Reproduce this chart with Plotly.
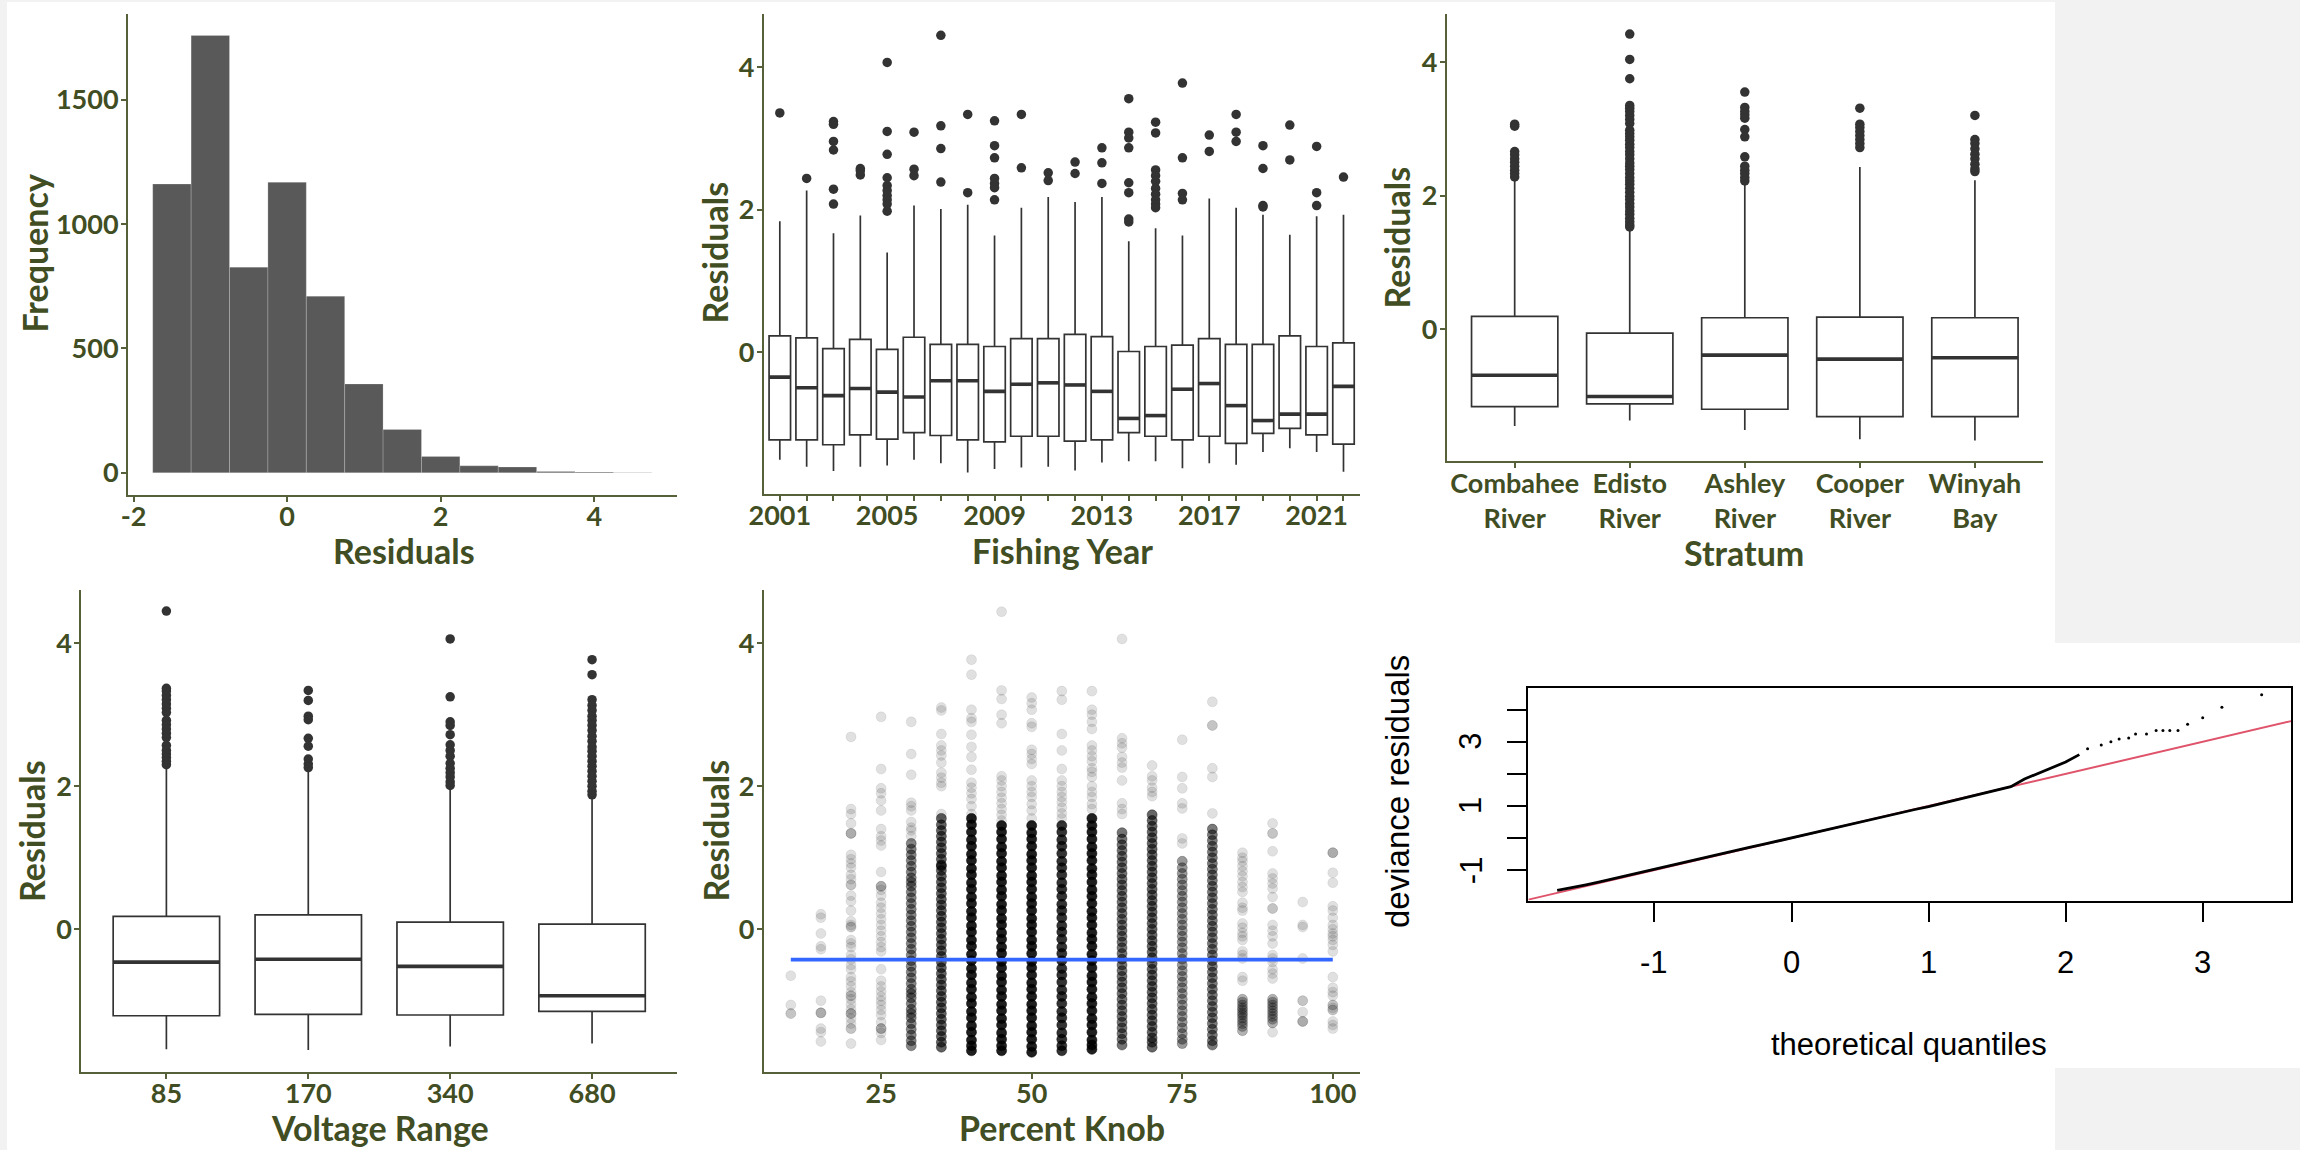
import plotly.graph_objects as go

# ---------------- data ----------------
# Panel 1: histogram of residuals (bin centres, counts; bin width 0.5)
hist_centers = [-1.5, -1.0, -0.5, 0.0, 0.5, 1.0, 1.5, 2.0, 2.5, 3.0, 3.5, 4.0, 4.5]
hist_counts = [1161, 1759, 827, 1168, 710, 357, 174, 66, 28, 23, 5, 3, 1]
hist_bin_width = 0.5

# Panel 2: residuals by fishing year
years = list(range(2001, 2023))
fy_q3 = [0.23, 0.20, 0.05, 0.18, 0.04, 0.21, 0.11, 0.11, 0.08, 0.19, 0.19, 0.25, 0.22, 0.01, 0.08, 0.10, 0.19, 0.11, 0.11, 0.23, 0.08, 0.13]
fy_med = [-0.35, -0.50, -0.61, -0.51, -0.56, -0.63, -0.40, -0.40, -0.55, -0.45, -0.43, -0.46, -0.55, -0.93, -0.89, -0.52, -0.44, -0.75, -0.96, -0.87, -0.87, -0.48]
fy_q1 = [-1.23, -1.23, -1.30, -1.16, -1.22, -1.13, -1.17, -1.23, -1.26, -1.18, -1.18, -1.25, -1.23, -1.13, -1.18, -1.23, -1.18, -1.28, -1.14, -1.07, -1.16, -1.29]
fy_lo = [-1.51, -1.61, -1.67, -1.61, -1.59, -1.51, -1.56, -1.69, -1.64, -1.62, -1.61, -1.66, -1.55, -1.53, -1.53, -1.63, -1.56, -1.58, -1.40, -1.35, -1.40, -1.68]
fy_hi = [1.84, 2.27, 1.67, 1.92, 1.40, 2.06, 2.01, 2.07, 1.64, 2.03, 2.18, 2.11, 2.18, 1.56, 1.74, 1.64, 2.16, 2.03, 1.93, 1.65, 1.91, 1.93]
fy_out_year = ([2001] + [2002] + [2003] * 6 + [2004] * 3 + [2005] * 10 + [2006] * 3 + [2007] * 4 + [2008] * 2
               + [2009] * 7 + [2010] * 2 + [2011] * 2 + [2012] * 2 + [2013] * 3 + [2014] * 8 + [2015] * 10
               + [2016] * 4 + [2017] * 2 + [2018] * 3 + [2019] * 4 + [2020] * 2 + [2021] * 3 + [2022])
fy_out_val = [3.36,
              2.44,
              3.24, 3.20, 2.96, 2.84, 2.29, 2.08,
              2.58, 2.55, 2.49,
              4.07, 3.10, 2.78, 2.45, 2.34, 2.27, 2.20, 2.14, 2.08, 1.98,
              3.09, 2.57, 2.48,
              4.45, 3.18, 2.86, 2.39,
              3.34, 2.24,
              3.25, 2.90, 2.73, 2.44, 2.37, 2.31, 2.14,
              3.34, 2.59,
              2.52, 2.41,
              2.67, 2.51,
              2.87, 2.66, 2.37,
              3.56, 3.09, 3.01, 2.87, 2.38, 2.24, 1.87, 1.83,
              3.23, 3.08, 2.56, 2.48, 2.40, 2.30, 2.22, 2.14, 2.08, 2.03,
              3.78, 2.73, 2.23, 2.14,
              3.05, 2.82,
              3.34, 3.09, 2.96,
              2.90, 2.58, 2.06, 2.04,
              3.19, 2.70,
              2.89, 2.24, 2.06,
              2.46]
fy_tick_labels = ["2001", "2005", "2009", "2013", "2017", "2021"]

# Panel 3: residuals by stratum
strata = ["Combahee<br>River", "Edisto<br>River", "Ashley<br>River", "Cooper<br>River", "Winyah<br>Bay"]
st_q3 = [0.19, -0.06, 0.17, 0.18, 0.17]
st_med = [-0.69, -1.01, -0.39, -0.45, -0.43]
st_q1 = [-1.16, -1.12, -1.20, -1.31, -1.31]
st_lo = [-1.45, -1.37, -1.51, -1.65, -1.67]
st_hi = [2.23, 1.50, 2.16, 2.43, 2.23]
st_out_combahee = [3.07, 3.04, 2.66, 2.61, 2.55, 2.50, 2.44, 2.38, 2.33, 2.28]
st_out_edisto = [4.42, 4.04, 3.75, 3.35, 3.31, 3.26, 3.20, 3.14, 3.08, 2.98, 2.93, 2.88, 2.83, 2.77, 2.72,
                 2.66, 2.61, 2.55, 2.49, 2.44, 2.39, 2.33, 2.27, 2.22, 2.17, 2.11, 2.05, 1.99, 1.94, 1.88,
                 1.83, 1.77, 1.72, 1.66, 1.61, 1.56, 1.53]
st_out_ashley = [3.55, 3.32, 3.26, 3.21, 3.16, 2.99, 2.88, 2.58, 2.44, 2.38, 2.33, 2.27, 2.22]
st_out_cooper = [3.31, 3.07, 3.02, 2.96, 2.90, 2.84, 2.78, 2.72]
st_out_winyah = [3.20, 2.84, 2.78, 2.70, 2.62, 2.55, 2.47, 2.40, 2.36]

# Panel 4: residuals by voltage range
volts = ["85", "170", "340", "680"]
v_q3 = [0.18, 0.20, 0.10, 0.07]
v_med = [-0.46, -0.42, -0.52, -0.93]
v_q1 = [-1.21, -1.19, -1.20, -1.15]
v_lo = [-1.68, -1.69, -1.64, -1.60]
v_hi = [2.26, 2.20, 1.97, 1.84]
v_out_85 = [4.45, 3.37, 3.33, 3.27, 3.21, 3.15, 3.09, 3.03, 2.92, 2.86, 2.80, 2.74, 2.68, 2.57, 2.50, 2.45, 2.40, 2.35, 2.30]
v_out_170 = [3.34, 3.20, 2.98, 2.93, 2.67, 2.56, 2.38, 2.31, 2.26]
v_out_340 = [4.06, 3.25, 2.90, 2.85, 2.72, 2.58, 2.50, 2.42, 2.32, 2.25, 2.19, 2.13, 2.06, 2.01]
v_out_680 = [3.77, 3.56, 3.21, 3.13, 3.06, 2.98, 2.92, 2.85, 2.78, 2.70, 2.63, 2.55, 2.49, 2.42, 2.35, 2.28,
             2.21, 2.14, 2.07, 2.00, 1.93, 1.88]

# Panel 5: residuals vs percent knob (sparse points + dense cores)
knob_levels = [10, 15, 20, 25, 30, 35, 40, 45, 50, 55, 60, 65, 70, 75, 80, 85, 90, 95, 100]
k10 = [-0.65, -1.06, -1.18, -1.18]
k15 = [0.21, 0.16, -0.06, -0.24, -0.28, -1.00, -1.17, -1.17, -1.17, -1.39, -1.44, -1.57]
k20 = [2.69, 1.68, 1.61, 1.48, 1.34, 1.34, 1.34, 1.04, 0.98, 0.92, 0.86, 0.76, 0.70, 0.62, 0.62, 0.47, 0.39,
       0.26, 0.11, 0.06, 0.03, 0.03, -0.15, -0.20, -0.25, -0.36, -0.42, -0.50, -0.56, -0.67, -0.73, -0.80,
       -0.88, -0.93, -0.93, -0.98, -1.05, -1.12, -1.18, -1.18, -1.18, -1.25, -1.32, -1.39, -1.39, -1.60]
k25 = [2.97, 2.24, 1.97, 1.90, 1.80, 1.66, 1.40, 1.30, 1.24, 1.17, 0.80, 0.60, 0.60, 0.60, 0.55, 0.47, 0.37,
       0.30, 0.22, 0.14, 0.06, -0.02, -0.10, -0.18, -0.25, -0.31, -0.56, -0.72, -0.80, -0.87, -0.94, -1.00,
       -1.06, -1.13, -1.20, -1.30, -1.39, -1.39, -1.39, -1.45, -1.55]
k30 = [2.90, 2.45, 2.16, 1.77, 1.72, 1.66, 1.50, 1.42, 1.38, 1.30]
k35 = [3.10, 3.06, 2.73, 2.57, 2.50, 2.43, 2.33, 2.19, 2.12, 2.05, 2.00, 1.61]
k40 = [3.77, 3.56, 3.07, 2.95, 2.90, 2.72, 2.55, 2.41, 2.23, 2.05, 1.98, 1.90, 1.82, 1.72, 1.61]
k45 = [4.44, 3.34, 3.22, 3.00, 2.88, 2.14, 2.08, 2.00, 1.92, 1.84, 1.76, 1.68, 1.60, 1.52]
k50 = [3.24, 3.16, 3.07, 2.88, 2.83, 2.51, 2.45, 2.38, 2.31, 2.08, 2.00, 1.92, 1.85, 1.75, 1.66, 1.55]
k55 = [3.33, 3.21, 2.73, 2.50, 2.24, 2.08, 2.00, 1.92, 1.85, 1.78, 1.70, 1.62, 1.55]
k60 = [3.33, 3.07, 3.00, 2.90, 2.80, 2.57, 2.50, 2.42, 2.35, 2.25, 2.20, 2.13, 2.00, 1.92, 1.85, 1.75, 1.68]
k65 = [4.06, 2.67, 2.60, 2.54, 2.41, 2.33, 2.26, 2.08, 1.76, 1.68, 1.61]
k70 = [2.29, 2.14, 2.08, 1.98, 1.92, 1.86]
k75 = [2.65, 2.13, 1.97, 1.76, 1.69, 1.27, 1.20]
k80 = [3.18, 2.85, 2.85, 2.25, 2.13, 1.62]
k85 = [1.07, 1.00, 0.95, 0.88, 0.81, 0.74, 0.66, 0.59, 0.52, 0.37, 0.30, 0.26, 0.08, 0.02, -0.05, -0.10,
       -0.15, -0.31, -0.36, -0.41, -0.67, -0.72]
k90 = [1.48, 1.34, 1.34, 1.09, 0.78, 0.71, 0.64, 0.57, 0.45, 0.29, 0.29, 0.06, -0.02, -0.10, -0.20, -0.36,
       -0.41, -0.46, -0.56, -0.62, -0.69, -1.44]
k95 = [0.38, 0.06, 0.03, -0.41, -1.00, -1.00, -1.16, -1.29, -1.29, -1.29]
k100 = [1.07, 1.07, 1.07, 0.79, 0.65, 0.32, 0.26, 0.16, 0.06, 0.00, -0.06, -0.10, -0.15, -0.22, -0.31, -0.67,
        -0.82, -0.88, -0.93, -1.06, -1.06, -1.10, -1.13, -1.13, -1.29, -1.34, -1.39]
core30 = [1.20, 1.12, 1.04, 0.96, 0.88, 0.80, 0.72, 0.66, 0.60, 0.52, 0.44, 0.36, 0.28, 0.20, 0.12, 0.04, -0.04,
          -0.12, -0.20, -0.28, -0.36, -0.44, -0.52, -0.60, -0.68, -0.76, -0.84, -0.90, -0.96, -1.04, -1.12,
          -1.18, -1.24, -1.32, -1.40, -1.48, -1.56, -1.63]
core35 = [1.55, 1.46, 1.38, 1.30, 1.22, 1.14, 1.06, 0.98, 0.90, 0.88, 0.82, 0.74, 0.66, 0.58, 0.50, 0.42, 0.34,
          0.26, 0.18, 0.10, 0.02, -0.06, -0.14, -0.22, -0.30, -0.38, -0.46, -0.54, -0.62, -0.70, -0.78, -0.86,
          -0.94, -1.02, -1.10, -1.18, -1.26, -1.34, -1.42, -1.50, -1.58, -1.65]
core40 = [1.55, 1.46, 1.36, 1.25, 1.16, 1.05, 0.96, 0.85, 0.76, 0.65, 0.56, 0.45, 0.36, 0.25, 0.16, 0.05, -0.04,
          -0.15, -0.24, -0.35, -0.44, -0.55, -0.64, -0.75, -0.84, -0.95, -1.04, -1.15, -1.24, -1.35, -1.44,
          -1.55, -1.63, -1.70]
core45 = [1.45, 1.36, 1.26, 1.15, 1.06, 0.95, 0.86, 0.75, 0.66, 0.55, 0.46, 0.35, 0.26, 0.15, 0.06, -0.05,
          -0.14, -0.25, -0.34, -0.45, -0.54, -0.65, -0.74, -0.85, -0.94, -1.05, -1.14, -1.25, -1.34, -1.45,
          -1.54, -1.63, -1.70]
core50 = [1.45, 1.35, 1.26, 1.16, 1.05, 0.96, 0.86, 0.75, 0.66, 0.56, 0.45, 0.36, 0.26, 0.15, 0.06, -0.04,
          -0.15, -0.24, -0.34, -0.45, -0.54, -0.64, -0.75, -0.84, -0.94, -1.05, -1.14, -1.24, -1.35, -1.44,
          -1.54, -1.64, -1.72]
core55 = [1.45, 1.36, 1.25, 1.16, 1.06, 0.95, 0.86, 0.76, 0.65, 0.56, 0.46, 0.35, 0.26, 0.16, 0.05, -0.04,
          -0.14, -0.25, -0.34, -0.44, -0.55, -0.64, -0.74, -0.85, -0.94, -1.04, -1.15, -1.24, -1.34, -1.45,
          -1.54, -1.63, -1.70]
core60 = [1.55, 1.45, 1.36, 1.26, 1.15, 1.06, 0.96, 0.85, 0.76, 0.66, 0.55, 0.46, 0.36, 0.25, 0.16, 0.06, -0.05,
          -0.14, -0.24, -0.35, -0.44, -0.54, -0.65, -0.74, -0.84, -0.95, -1.04, -1.14, -1.25, -1.34, -1.44,
          -1.55, -1.62, -1.68]
core65 = [1.35, 1.26, 1.18, 1.10, 1.02, 0.94, 0.86, 0.78, 0.70, 0.62, 0.54, 0.46, 0.38, 0.30, 0.22, 0.14, 0.06,
          -0.02, -0.10, -0.18, -0.26, -0.34, -0.42, -0.50, -0.58, -0.66, -0.74, -0.82, -0.90, -0.98, -1.06,
          -1.14, -1.22, -1.30, -1.38, -1.46, -1.54, -1.62]
core70 = [1.60, 1.52, 1.44, 1.36, 1.28, 1.20, 1.12, 1.04, 0.96, 0.88, 0.80, 0.72, 0.64, 0.56, 0.48, 0.40, 0.32,
          0.24, 0.16, 0.08, 0.00, -0.08, -0.16, -0.24, -0.32, -0.40, -0.48, -0.56, -0.64, -0.72, -0.80, -0.88,
          -0.96, -1.04, -1.12, -1.20, -1.28, -1.36, -1.44, -1.52, -1.58, -1.65]
core75 = [0.95, 0.86, 0.78, 0.70, 0.62, 0.54, 0.46, 0.38, 0.30, 0.22, 0.14, 0.06, -0.02, -0.10, -0.18, -0.26,
          -0.34, -0.42, -0.50, -0.58, -0.66, -0.74, -0.82, -0.90, -0.98, -1.06, -1.14, -1.22, -1.30, -1.38,
          -1.46, -1.54, -1.60]
core80 = [1.40, 1.32, 1.24, 1.16, 1.08, 1.00, 0.92, 0.84, 0.76, 0.68, 0.60, 0.52, 0.44, 0.36, 0.28, 0.20, 0.12,
          0.04, -0.04, -0.12, -0.20, -0.28, -0.36, -0.44, -0.52, -0.60, -0.68, -0.76, -0.84, -0.92, -1.00,
          -1.08, -1.16, -1.24, -1.32, -1.40, -1.48, -1.56, -1.62]
core85 = [-0.98, -1.02, -1.06, -1.10, -1.13, -1.17, -1.20, -1.24, -1.28, -1.32, -1.36, -1.42]
core90 = [-0.98, -1.02, -1.06, -1.10, -1.14, -1.18, -1.22, -1.26, -1.31]
knob_core_alpha = {30: 0.48, 35: 0.62, 40: 0.88, 45: 0.88, 50: 0.88, 55: 0.8, 60: 0.88, 65: 0.55,
                   70: 0.6, 75: 0.4, 80: 0.52, 85: 0.3, 90: 0.3}
knob_point_alpha = 0.12
smooth_intercept = -0.425   # fitted smooth (flat) line
smooth_slope = 0.0

# Panel 6: QQ plot of deviance residuals
qq_body_x = [-1.71, -1.60, -1.50, -1.40, -1.30, -1.20, -1.10, -1.00, -0.90, -0.80, -0.70, -0.60, -0.50, -0.40,
             -0.30, -0.20, -0.10, 0.00, 0.10, 0.20, 0.30, 0.40, 0.50, 0.60, 0.70, 0.80, 0.90, 1.00, 1.10, 1.20,
             1.30, 1.40, 1.50, 1.60, 1.70, 1.80, 1.90, 2.00, 2.10]
qq_body_y = [-1.63, -1.55, -1.46, -1.37, -1.27, -1.17, -1.06, -0.96, -0.86, -0.77, -0.67, -0.57, -0.47, -0.38,
             -0.28, -0.19, -0.09, 0.00, 0.10, 0.19, 0.29, 0.39, 0.49, 0.59, 0.69, 0.79, 0.89, 0.98, 1.08, 1.18,
             1.28, 1.38, 1.48, 1.60, 1.84, 2.02, 2.20, 2.37, 2.60]
qq_tail_x = [2.16, 2.26, 2.33, 2.39, 2.46, 2.51, 2.59, 2.66, 2.71, 2.76, 2.82, 2.89, 3.00, 3.14, 3.43]
qq_tail_y = [2.78, 2.90, 3.00, 3.09, 3.12, 3.24, 3.24, 3.35, 3.35, 3.35, 3.35, 3.55, 3.75, 4.08, 4.47]
qq_line_intercept = 0.0
qq_line_slope = 1.0
qq_xticks = [-1, 0, 1, 2, 3]
qq_yticks = [-1, 0, 1, 2, 3, 4]
qq_ylabels = [-1, 1, 3]

# ---------------- styling / layout ----------------
W, H = 2300, 1150
TEXT = "#414d22"
AXIS = "#56613a"
BOXC = "#333333"
FONT = "Lato"
RFONT = "Liberation Sans, Arial, sans-serif"


def px(x):
    return x / W


def py(y):
    return 1 - y / H


# panel rectangles in pixels: (left, right, top, bottom)
P = {1: (128, 677, 14, 494.6), 2: (763.7, 1359.6, 14, 493.9), 3: (1446.8, 2042.8, 14, 461.3),
     4: (81.25, 677.2, 590.3, 1072), 5: (763.7, 1359.6, 590.3, 1072), 6: (1528.4, 2291.1, 687.6, 900.6)}

fig = go.Figure()

# Panel 1 histogram
fig.add_trace(go.Bar(x=hist_centers, y=hist_counts, width=hist_bin_width, marker_color="#595959",
                     marker_line=dict(color="rgba(255,255,255,0.28)", width=0.7),
                     xaxis="x", yaxis="y", hoverinfo="skip"))


def add_boxes(xpos, q1, med, q3, lo, hi, width, xa, ya):
    fig.add_trace(go.Box(x=xpos, q1=q1, median=med, q3=q3, lowerfence=lo, upperfence=hi, width=width,
                         fillcolor="white", line=dict(color=BOXC, width=1.7), whiskerwidth=0,
                         xaxis=xa, yaxis=ya, hoverinfo="skip"))
    mx, my = [], []
    for x, m in zip(xpos, med):
        mx += [x - width / 2, x + width / 2, None]
        my += [m, m, None]
    fig.add_trace(go.Scatter(x=mx, y=my, mode="lines", line=dict(color=BOXC, width=3.6),
                             xaxis=xa, yaxis=ya, hoverinfo="skip"))


def add_outliers(xs, ys, xa, ya):
    fig.add_trace(go.Scatter(x=xs, y=ys, mode="markers", marker=dict(color=BOXC, size=9.5),
                             xaxis=xa, yaxis=ya, hoverinfo="skip"))


# Panel 2
add_boxes(years, fy_q1, fy_med, fy_q3, fy_lo, fy_hi, 0.8, "x2", "y2")
add_outliers(fy_out_year, fy_out_val, "x2", "y2")

# Panel 3
st_pos = list(range(len(strata)))
add_boxes(st_pos, st_q1, st_med, st_q3, st_lo, st_hi, 0.75, "x3", "y3")
st_outs = [st_out_combahee, st_out_edisto, st_out_ashley, st_out_cooper, st_out_winyah]
ox, oy = [], []
for i, vals in enumerate(st_outs):
    ox += [i] * len(vals)
    oy += vals
add_outliers(ox, oy, "x3", "y3")

# Panel 4
v_pos = list(range(len(volts)))
add_boxes(v_pos, v_q1, v_med, v_q3, v_lo, v_hi, 0.75, "x4", "y4")
v_outs = [v_out_85, v_out_170, v_out_340, v_out_680]
ox, oy = [], []
for i, vals in enumerate(v_outs):
    ox += [i] * len(vals)
    oy += vals
add_outliers(ox, oy, "x4", "y4")

# Panel 5 scatter
sparse_lists = [k10, k15, k20, k25, k30, k35, k40, k45, k50, k55, k60, k65, k70, k75, k80, k85, k90, k95, k100]
core_lists = {30: core30, 35: core35, 40: core40, 45: core45, 50: core50, 55: core55, 60: core60,
              65: core65, 70: core70, 75: core75, 80: core80, 85: core85, 90: core90}
sx, sy, sc = [], [], []
for lvl, vals in zip(knob_levels, sparse_lists):
    for v in vals:
        sx.append(lvl); sy.append(v); sc.append(f"rgba(0,0,0,{knob_point_alpha})")
for lvl, vals in core_lists.items():
    a = knob_core_alpha[lvl]
    for v in vals:
        sx.append(lvl); sy.append(v); sc.append(f"rgba(0,0,0,{a})")
fig.add_trace(go.Scatter(x=sx, y=sy, mode="markers",
                         marker=dict(color=sc, size=10, line=dict(color=sc, width=0.6)),
                         xaxis="x5", yaxis="y5", hoverinfo="skip"))
kx = [min(knob_levels), max(knob_levels)]
fig.add_trace(go.Scatter(x=kx, y=[smooth_intercept + smooth_slope * v for v in kx], mode="lines",
                         line=dict(color="#3366FF", width=3.6), xaxis="x5", yaxis="y5", hoverinfo="skip"))

# Panel 6 QQ
qq_xr = [-1.92, 3.645]
qq_yr = [-1.95, 4.69]
fig.add_trace(go.Scatter(x=qq_xr, y=[qq_line_intercept + qq_line_slope * v for v in qq_xr], mode="lines",
                         line=dict(color="#DF536B", width=2), xaxis="x6", yaxis="y6", hoverinfo="skip"))
fig.add_trace(go.Scatter(x=qq_body_x, y=qq_body_y, mode="lines", line=dict(color="black", width=2.8),
                         xaxis="x6", yaxis="y6", hoverinfo="skip"))
fig.add_trace(go.Scatter(x=qq_tail_x, y=qq_tail_y, mode="markers", marker=dict(color="black", size=3),
                         xaxis="x6", yaxis="y6", hoverinfo="skip"))

tickfont = dict(family=FONT, size=27, color=TEXT, weight="bold")
common = dict(showline=True, linecolor=AXIS, linewidth=2, ticks="outside", ticklen=5, tickwidth=1.5,
              tickcolor=AXIS, showgrid=False, zeroline=False, tickfont=tickfont, fixedrange=True,
              automargin=False)


def dom(i):
    l, r, t, b = P[i]
    return [px(l), px(r)], [py(b), py(t)]


lay = {}
ranges = {
    1: ([-2.072, 5.078], [-87.7, 1845]),
    2: ([2000.4, 2022.6], [-1.99, 4.75]),
    3: ([-0.59, 4.59], [-1.98, 4.72]),
    4: ([-0.6, 3.6], [-1.997, 4.74]),
    5: ([5.5, 104.45], [-1.997, 4.74]),
}
xt = {
    1: ([-2, 0, 2, 4], ["-2", "0", "2", "4"]),
    2: (years, [str(y) if str(y) in fy_tick_labels else "" for y in years]),
    3: (st_pos, strata),
    4: (v_pos, volts),
    5: ([25, 50, 75, 100], ["25", "50", "75", "100"]),
}
yt = {1: [0, 500, 1000, 1500], 2: [0, 2, 4], 3: [0, 2, 4], 4: [0, 2, 4], 5: [0, 2, 4]}
for i in range(1, 6):
    xd, yd = dom(i)
    sfx = "" if i == 1 else str(i)
    lay["xaxis" + sfx] = dict(domain=xd, range=ranges[i][0], anchor="y" + sfx, tickmode="array",
                              tickvals=xt[i][0], ticktext=xt[i][1], ticklabelstandoff=-8, **common)
    lay["yaxis" + sfx] = dict(domain=yd, range=ranges[i][1], anchor="x" + sfx, tickmode="array",
                              tickvals=yt[i], ticktext=[str(v) for v in yt[i]], ticklabelstandoff=-3, **common)

xd, yd = dom(6)
qq_common = dict(showline=True, mirror=True, linecolor="black", linewidth=2, ticks="outside", ticklen=19,
                 tickwidth=2, tickcolor="black", showgrid=False, zeroline=False, showticklabels=False,
                 fixedrange=True, automargin=False)
lay["xaxis6"] = dict(domain=xd, range=qq_xr, anchor="y6", tickmode="array", tickvals=qq_xticks, **qq_common)
lay["yaxis6"] = dict(domain=yd, range=qq_yr, anchor="x6", tickmode="array", tickvals=qq_yticks, **qq_common)

titlefont = dict(family=FONT, size=34, color=TEXT, weight="bold")
ann = []


def title(text, x, y, angle=0):
    ann.append(dict(text=text, x=px(x), y=py(y), xref="paper", yref="paper", showarrow=False,
                    font=titlefont, textangle=angle, xanchor="center", yanchor="middle"))


title("Frequency", 33.5, 254, -90)
title("Residuals", 404, 551)
title("Residuals", 714.5, 253, -90)
title("Fishing Year", 1062, 551)
title("Residuals", 1395.5, 237, -90)
title("Stratum", 1744, 552)
title("Residuals", 31, 831, -90)
title("Voltage Range", 379.5, 1127)
title("Residuals", 714.5, 831, -90)
title("Percent Knob", 1062, 1127)

rf = dict(family=RFONT, size=31, color="black")
for v in qq_xticks:
    ann.append(dict(text=str(v), x=v, xref="x6", y=py(962), yref="paper", showarrow=False, font=rf,
                    xanchor="center", yanchor="middle"))
for v in qq_ylabels:
    ann.append(dict(text=str(v), y=v, yref="y6", x=px(1471), xref="paper", showarrow=False, font=rf,
                    textangle=-90, xanchor="center", yanchor="middle"))
ann.append(dict(text="theoretical quantiles", x=px(1909), y=py(1044), xref="paper", yref="paper",
                showarrow=False, font=rf, xanchor="center", yanchor="middle"))
ann.append(dict(text="deviance residuals", x=px(1397), y=py(792), xref="paper", yref="paper",
                showarrow=False, font=dict(family=RFONT, size=33, color="black"), textangle=-90,
                xanchor="center", yanchor="middle"))

shapes = [
    dict(type="rect", xref="paper", yref="paper", x0=px(7), x1=px(2055), y0=0, y1=py(2),
         fillcolor="white", line=dict(width=0), layer="below"),
    dict(type="rect", xref="paper", yref="paper", x0=px(2055), x1=1, y0=py(1068), y1=py(643),
         fillcolor="white", line=dict(width=0), layer="below"),
]

fig.update_layout(width=W, height=H, autosize=False, margin=dict(l=0, r=0, t=0, b=0, pad=0),
                  paper_bgcolor="#f2f2f2", plot_bgcolor="rgba(0,0,0,0)", showlegend=False,
                  annotations=ann, shapes=shapes, **lay)

fig.write_html("out.html", config={"displayModeBar": False},
               post_script="document.body.style.margin='0';document.body.style.overflow='hidden';")
